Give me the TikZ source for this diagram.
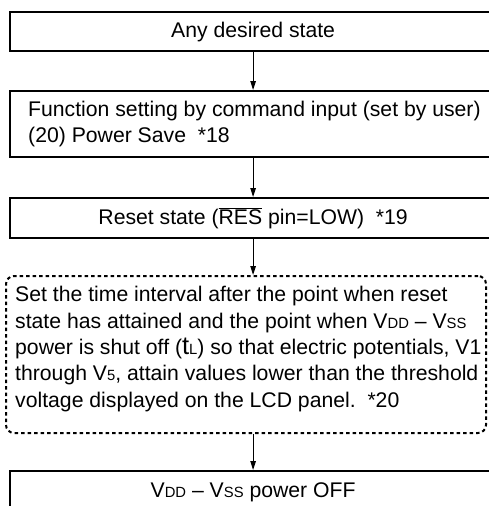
\documentclass[tikz,border=0pt]{standalone}
\usepackage{fontspec}
\setmainfont{Liberation Sans}
\usetikzlibrary{arrows.meta}
\newcommand\lo[1]{{\fontsize{14.8}{14.8}\selectfont #1}}
\newcommand\bigt{{\fontsize{25.5}{25.5}\selectfont t}}
\begin{document}
\begin{tikzpicture}[x=1pt,y=-1pt,
  txt/.style={font=\fontsize{21.2}{26.3}\selectfont},
  box/.style={txt, draw, line width=2.2pt, rectangle, minimum width=486pt, inner sep=0pt, anchor=north west},
  dotbox/.style={draw, line width=2pt, dash pattern=on 3.5pt off 3pt, rounded corners=8pt, rectangle, inner sep=0pt, anchor=north west},
  lbl/.style={txt, inner sep=0pt, anchor=west, align=left},
  arr/.style={line width=1.1pt, -{Triangle[width=5.5pt,length=9pt]}}]
\useasboundingbox (0,0) rectangle (488,506);
\node[box, minimum height=39pt] (n1) at (9,11) {Any desired state};
\node[box, minimum height=66pt] (n2) at (9,90) {};
\node[lbl] (n2t) at (28,124)
  {Function setting by command input (set by user)\\(20) Power Save\ \ *18};
\node[box, minimum height=40pt] (n3) at (9,197)
  {Reset state ($\overline{\mbox{RES}}$ pin=LOW)\ \ *19};
\node[dotbox, minimum width=480pt, minimum height=157pt] (n4) at (5,275) {};
\node[lbl] (n4t) at (15,349)
  {Set the time interval after the point when reset\\
   state has attained and the point when V\lo{DD} -- V\lo{SS}\\
   power is shut off (\bigt\lo{L}) so that electric potentials, V1\\
   through V\lo{5}, attain values lower than the threshold\\
   voltage displayed on the LCD panel.\ \ *20};
\node[box, minimum height=42pt] (n5) at (9,470) {V\lo{DD} -- V\lo{SS} power OFF};
\draw[arr] (n1.south) -- (n2.north);
\draw[arr] (n2.south) -- (n3.north);
\draw[arr] (n3.south) -- (n3.south |- n4.north);
\draw[arr] (n3.south |- n4.south) -- (n5.north);
\end{tikzpicture}
\end{document}
